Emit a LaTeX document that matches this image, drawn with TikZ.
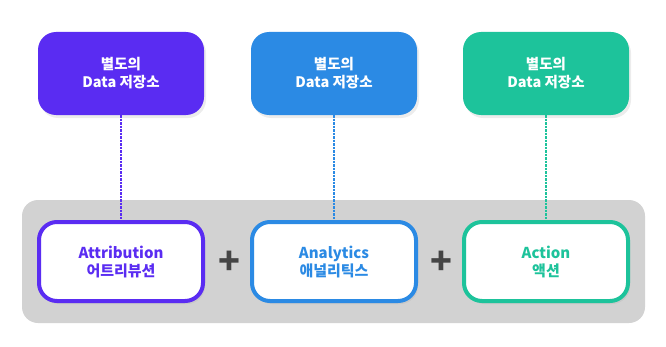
\documentclass[tikz,border=0pt]{standalone}
\usepackage{fontspec}
\setmainfont{Noto Sans CJK KR}
\usepackage{xcolor}
\usetikzlibrary{positioning,shadows}

\definecolor{attrpurple}{HTML}{5A2CF2}
\definecolor{anablue}{HTML}{2B8AE4}
\definecolor{actgreen}{HTML}{1DC39B}
\definecolor{panelgray}{HTML}{D2D2D2}
\definecolor{plusgray}{HTML}{454545}

\tikzset{
    store/.style={rounded corners=18pt, minimum width=166pt, minimum height=83pt,
        text=white, align=center, font=\fontsize{14.5}{18}\selectfont\bfseries,
        drop shadow={shadow xshift=2pt, shadow yshift=-3pt, opacity=0.15}},
    part/.style={rounded corners=18pt, line width=4pt, fill=white, minimum width=164pt,
        minimum height=79pt, align=center, font=\fontsize{15}{18}\selectfont\bfseries,
        drop shadow={shadow xshift=2pt, shadow yshift=-3pt, opacity=0.12}},
    plus/.style={text=plusgray, font=\fontsize{36}{36}\selectfont\bfseries},
    link/.style={line width=1.3pt, dash pattern=on 2.5pt off 1pt}
}

\begin{document}
\begin{tikzpicture}[x=1pt, y=1pt]
    \useasboundingbox (0,0) rectangle (666,346);

    % Gray panel behind the three parts
    \fill[panelgray, rounded corners=16pt] (22,23) rectangle (645,146);

    % Separate data stores
    \node[store, fill=attrpurple] (storeA) at (121,272.5) {별도의\\Data 저장소};
    \node[store, fill=anablue] (storeB) at (334,272.5) {별도의\\Data 저장소};
    \node[store, fill=actgreen] (storeC) at (546,272.5) {별도의\\Data 저장소};

    % Attribution + Analytics + Action
    \node[part, draw=attrpurple, text=attrpurple] (attr) at (121,84.5) {Attribution\\어트리뷰션};
    \node[part, draw=anablue, text=anablue] (ana) at (334,84.5) {Analytics\\애널리틱스};
    \node[part, draw=actgreen, text=actgreen] (act) at (546,84.5) {Action\\액션};

    \node[plus] (plusA) at (229,83) {+};
    \node[plus] (plusB) at (441,83) {+};

    % Dashed links
    \draw[link, attrpurple] (storeA.south) -- (attr.north);
    \draw[link, anablue] (storeB.south) -- (ana.north);
    \draw[link, actgreen] (storeC.south) -- (act.north);
\end{tikzpicture}
\end{document}
